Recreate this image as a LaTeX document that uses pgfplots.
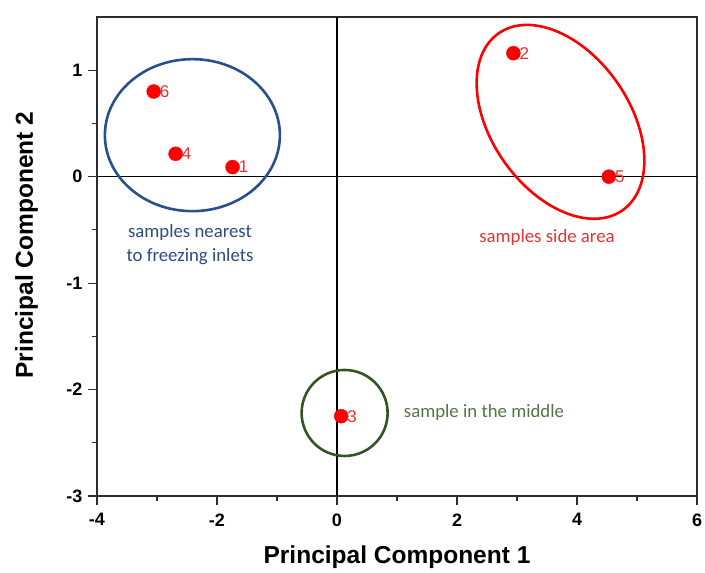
\documentclass[border=0pt]{standalone}
\usepackage{pgfplots}
\pgfplotsset{compat=1.18}
\usepackage{fontspec}
\setmainfont{Liberation Sans}
\newfontfamily\calib{Carlito}
\definecolor{eblue}{RGB}{40,80,140}
\definecolor{tblue}{RGB}{45,75,125}
\definecolor{egreen}{RGB}{50,85,35}
\definecolor{tgreen}{RGB}{85,115,70}
\definecolor{tred}{RGB}{230,50,50}
\definecolor{axgray}{RGB}{45,45,45}
\begin{document}
\begin{tikzpicture}
\begin{axis}[
  name=ax,
  scale only axis,
  width=600pt, height=479pt,
  xmin=-4, xmax=6, ymin=-3, ymax=1.5,
  xtick={-4,-2,0,2,4,6},
  ytick={-3,-2,-1,0,1},
  minor xtick={-3,-1,1,3,5},
  minor ytick={-2.5,-1.5,-0.5,0.5},
  tick align=outside,
  xtick pos=bottom, ytick pos=left,
  major tick length=9pt, minor tick length=5pt,
  every tick/.style={axgray, line width=1.2pt},
  axis line style={axgray, line width=1.6pt},
  /pgf/number format/assume math mode=true,
  ticklabel style={font=\fontsize{18}{20}\selectfont\bfseries},
  xticklabel style={yshift=-5pt},
  yticklabel style={xshift=-2pt},
  xlabel={Principal Component 1},
  ylabel={Principal Component 2},
  label style={font=\fontsize{24.5}{26}\selectfont\bfseries},
  xlabel style={at={(axis description cs:0.5,-0.127)}, anchor=center},
  ylabel style={at={(axis description cs:-0.1175,0.524)}, anchor=center},
  clip=false,
]
\draw[black, line width=1.3pt] (axis cs:-4,0) -- (axis cs:6,0);
\draw[black, line width=1.3pt] (axis cs:0,-3) -- (axis cs:0,1.5);

\draw[eblue, line width=2.6pt] (axis cs:-2.41,0.39) ellipse [x radius=87.5pt, y radius=76pt];
\draw[red, line width=2.6pt, rotate around={-55:(axis cs:3.725,0.515)}] (axis cs:3.725,0.515) ellipse [x radius=108pt, y radius=69pt];
\draw[egreen, line width=2.6pt] (axis cs:0.127,-2.22) circle [radius=43pt];

\addplot[only marks, mark=*, mark size=7pt, color=red,
  nodes near coords, point meta=explicit symbolic,
  every node near coord/.style={anchor=west, xshift=6pt, yshift=0pt, text=tred, font=\fontsize{17}{18}\selectfont, inner sep=0pt}]
  table[meta=lab] {
  x y lab
  -3.055 0.80 6
  -2.69 0.215 4
  -1.74 0.09 1
  2.94 1.16 2
  4.53 0.0 5
  0.07 -2.25 3
};

\node[tblue, font=\calib\fontsize{18.8}{24}\selectfont, align=center] at (axis cs:-2.45,-0.64) {samples nearest\\to freezing inlets};
\node[tred, font=\calib\fontsize{18.8}{24}\selectfont] at (axis cs:3.5,-0.57) {samples side area};
\node[tgreen, font=\calib\fontsize{18.8}{24}\selectfont] at (axis cs:2.45,-2.22) {sample in the middle};
\end{axis}
\pgfresetboundingbox
\path[use as bounding box] ([xshift=-97pt,yshift=-77pt]ax.south west) rectangle ([xshift=8pt,yshift=17pt]ax.north east);
\end{tikzpicture}
\end{document}
